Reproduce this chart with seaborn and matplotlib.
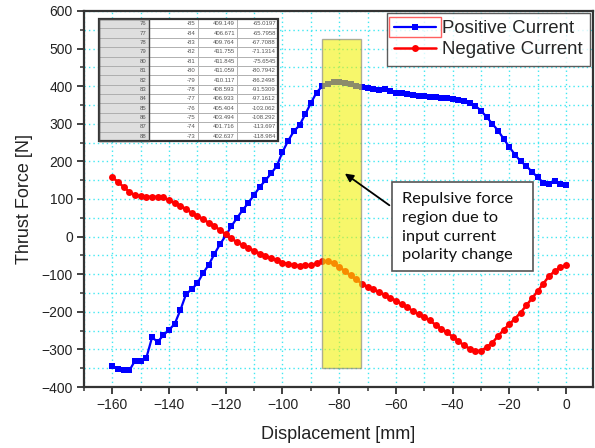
import numpy as np
import pandas as pd
import matplotlib
matplotlib.use("Agg")
import matplotlib.pyplot as plt
from matplotlib.patches import Rectangle
from matplotlib.ticker import MultipleLocator
import seaborn as sns

# ---------------- data ----------------
displacement = list(range(-160, 1, 2))
positive_current = [
    -344, -352, -354, -356, -330, -330, -322, -268, -280, -262,
    -248, -232, -195, -153, -140, -124, -97, -75, -46, -20,
    3, 28, 50, 71, 90, 111, 132, 150, 168, 188,
    225, 255, 280, 296, 325, 355, 383, 400, 406.7, 411.8,
    411.1, 408.6, 405.4, 401.7, 398, 396, 392, 390, 393, 388,
    383, 381, 378, 377, 374, 373, 372, 370, 368, 368,
    366, 364, 360, 355, 348, 335, 318, 300, 282, 260,
    238, 218, 200, 188, 172, 158, 143, 140, 147, 140,
    137]
negative_current = [
    158, 145, 132, 119, 110, 108, 106, 106, 106, 104,
    97, 90, 82, 73, 63, 56, 46, 37, 28, 17,
    6, -5, -15, -23, -30, -38, -45, -51, -57, -63,
    -69, -73, -76, -77, -76, -76, -71, -66, -65.8, -71.1,
    -80.8, -91.5, -103.1, -113.7, -125, -133, -140, -147, -155, -163,
    -170, -180, -188, -198, -207, -215, -223, -235, -245, -255,
    -266, -278, -289, -298, -304, -304, -294, -282, -265, -248,
    -233, -218, -202, -183, -164, -145, -125, -105, -92, -82,
    -76]

tbl_index = ["76", "77", "78", "79", "80", "81", "82", "83", "84", "85", "86", "87", "88"]
tbl_disp = ["-85", "-84", "-83", "-82", "-81", "-80", "-79", "-78", "-77", "-76", "-75", "-74", "-73"]
tbl_pos = ["409.149", "406.671", "409.764", "411.755", "411.845", "411.059", "410.117",
           "408.593", "406.933", "405.404", "403.494", "401.716", "402.637"]
tbl_neg = ["-65.0197", "-65.7958", "-67.7088", "-71.1314", "-75.6545", "-80.7942", "-86.2498",
           "-91.5309", "-97.1612", "-103.062", "-108.292", "-113.697", "-118.984"]

series_names = ["Positive Current", "Negative Current"]
region_x = [-86, -72.4]
region_y = [-350, 525]
note_text = "Repulsive force\nregion due to\ninput current\npolarity change"

# ---------------- figure ----------------
sns.set_style("white")
plt.rcParams["font.family"] = ["Liberation Sans", "DejaVu Sans"]

fig = plt.figure(figsize=(5.95, 4.48), dpi=100)
ax = fig.add_axes([84 / 595, 1 - 387 / 448, 509 / 595, 376 / 448])

df = pd.DataFrame({
    "x": displacement * 2,
    "y": positive_current + negative_current,
    "s": [series_names[0]] * len(displacement) + [series_names[1]] * len(displacement),
})

sns.lineplot(data=df[df.s == series_names[0]], x="x", y="y", color="blue", marker="s",
             markersize=4.3, markeredgewidth=0, linewidth=1.6, ax=ax,
             label=series_names[0], zorder=3)
sns.lineplot(data=df[df.s == series_names[1]], x="x", y="y", color="red", marker="o",
             markersize=5.0, markeredgewidth=0, linewidth=1.8, ax=ax,
             label=series_names[1], zorder=3)

ax.set_xlim(-170, 9.5)
ax.set_ylim(-400, 600)
ax.xaxis.set_major_locator(MultipleLocator(20))
ax.xaxis.set_minor_locator(MultipleLocator(10))
ax.yaxis.set_major_locator(MultipleLocator(100))
ax.yaxis.set_minor_locator(MultipleLocator(50))
ax.grid(True, which="both", color="#40e8f2", linestyle=(0, (1, 2.2)), linewidth=1.0, zorder=0)
ax.set_axisbelow(True)

for s in ax.spines.values():
    s.set_color("#333333")
    s.set_linewidth(1.6)
ax.tick_params(which="major", direction="out", length=5, width=1.3, color="#333333",
               labelsize=10, labelcolor="#222222", pad=3, bottom=True, left=True)
ax.tick_params(which="minor", direction="out", length=3, width=1.1, color="#333333",
               bottom=True, left=True)

ax.set_xlabel("Displacement [mm]", fontsize=13, color="#222222", labelpad=10)
ax.set_ylabel("Thrust Force [N]", fontsize=13, color="#222222", labelpad=6)

# yellow highlighted region
ax.add_patch(Rectangle((region_x[0], region_y[0]), region_x[1] - region_x[0],
                       region_y[1] - region_y[0], facecolor="#f2f200", alpha=0.58,
                       edgecolor="#777777", linewidth=1.0, zorder=4))

# annotation box and arrow
ax.add_patch(Rectangle((-61.5, -91.5), 49.8, 236.5, facecolor="white",
                       edgecolor="#555555", linewidth=1.2, zorder=5))
ax.text(-57.9, 25, note_text, fontsize=11.8, family=["Lato", "DejaVu Sans"],
        va="center", ha="left", linespacing=1.42, color="#111111", zorder=6)
ax.annotate("", xy=(-78.8, 172), xytext=(-61.5, 79),
            arrowprops=dict(arrowstyle="-|>", color="black", lw=1.3, mutation_scale=12),
            zorder=6)

# legend
leg = ax.legend(loc="upper right", bbox_to_anchor=((590 - 84) / 509, (387 - 13) / 376),
                fontsize=13.4, frameon=True, fancybox=False,
                edgecolor="#333333", borderaxespad=0.0, handlelength=2.25,
                borderpad=0.4, labelspacing=0.2, handletextpad=0.3)
leg.get_frame().set_linewidth(1.0)
leg.set_zorder(7)

# inset table
cells = [[a, b, c, d] for a, b, c, d in zip(tbl_index, tbl_disp, tbl_pos, tbl_neg)]
tab = ax.table(cellText=cells, cellLoc="right",
               colWidths=[50, 49, 39, 41],
               bbox=[(99 - 84) / 509, (387 - 141) / 376, 179 / 509, 122 / 376],
               zorder=8)
tab.auto_set_font_size(False)
tab.set_fontsize(4.3)
for (r, c), cell in tab.get_celld().items():
    cell.set_edgecolor("#aaaaaa")
    cell.set_linewidth(0.6)
    cell.set_facecolor("#dedede" if c == 0 else "white")
    cell.get_text().set_color("#555555")
    cell.PAD = 0.05
ax.add_patch(Rectangle(((99 - 84) / 509, (387 - 141) / 376), 179 / 509, 122 / 376,
                       transform=ax.transAxes, fill=False, edgecolor="#333333",
                       linewidth=1.6, zorder=9))
ax.add_patch(Rectangle(((99 - 84) / 509, (387 - 141) / 376), 50 / 509, 122 / 376,
                       transform=ax.transAxes, fill=False, edgecolor="#444444",
                       linewidth=1.0, zorder=9))

# red selection box around the first legend handle
fig.canvas.draw()
renderer = fig.canvas.get_renderer()
hb = leg.legend_handles[0].get_window_extent(renderer)
cy = (hb.y0 + hb.y1) / 2
W, H = fig.bbox.width, fig.bbox.height
fig.patches.append(Rectangle(((hb.x0 - 2) / W, (cy - 10) / H), (hb.width + 4) / W, 20 / H,
                             transform=fig.transFigure, fill=False,
                             edgecolor="#ff6060", linewidth=1.0, zorder=10))

fig.savefig("out.png", dpi=100)
